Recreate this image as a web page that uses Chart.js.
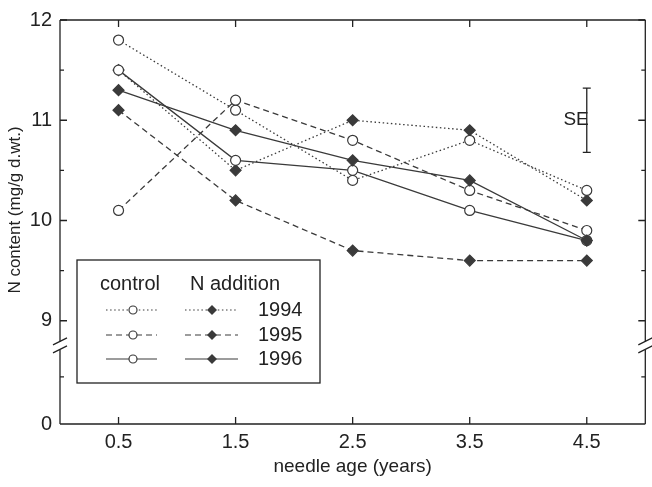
<!DOCTYPE html>
<html>
<head>
<meta charset="utf-8">
<script src="https://cdn.jsdelivr.net/npm/chart.js@4"></script>
<style>
  html, body { margin: 0; padding: 0; background: #fff; }
  #wrap { width: 652px; height: 487px; position: relative; }
</style>
</head>
<body>
<div id="wrap"><canvas id="nChart" width="652" height="487"></canvas></div>
<script>
// needle age categories (years)
const needleAge = [0.5, 1.5, 2.5, 3.5, 4.5];

// control (open circles)
const control1994 = [11.8, 11.1, 10.4, 10.8, 10.3];
const control1995 = [10.1, 11.2, 10.8, 10.3, 9.9];
const control1996 = [11.5, 10.6, 10.5, 10.1, 9.8];

// N addition (filled diamonds)
const nAdd1994 = [11.5, 10.5, 11.0, 10.9, 10.2];
const nAdd1995 = [11.1, 10.2, 9.7, 9.6, 9.6];
const nAdd1996 = [11.3, 10.9, 10.6, 10.4, 9.8];

// axis ticks
const yMajorTicks = [9, 10, 11, 12];
const yMinorTicks = [9.5, 10.5, 11.5];
const yZeroPos = 7.97;      // where "0" sits below the axis break
const yLowMinor = 8.44;     // minor tick below the break
const yBreakAt = 8.75;
const years = ['1994', '1995', '1996'];

// standard error bar, drawn at the last needle age
const seCenter = 11.0;
const seHalf = 0.32;

const ink = '#3a3a3a';
const DOT = [1.5, 2.6];
const DASH = [6, 4];
const SOLID = [];

function series(values, dash, filled, order) {
    return {
        data: needleAge.map((x, i) => ({ x: x, y: values[i] })),
        borderColor: ink,
        borderWidth: 1.3,
        borderDash: dash,
        pointStyle: filled ? 'rectRot' : 'circle',
        pointRadius: filled ? 5.5 : 5,
        pointBorderWidth: 1.2,
        pointBorderColor: ink,
        pointBackgroundColor: filled ? ink : '#fff',
        tension: 0,
        fill: false,
        order: order
    };
}

// frame, inward ticks, axis breaks, titles, legend and SE bar
const decorations = {
    id: 'decorations',
    afterDraw(chart) {
        const ctx = chart.ctx;
        const a = chart.chartArea;
        const xs = chart.scales.x, ys = chart.scales.y;
        const yb = ys.getPixelForValue(yBreakAt);

        ctx.save();
        ctx.strokeStyle = '#222';
        ctx.lineWidth = 1.3;
        ctx.setLineDash([]);

        // frame with gaps for the break
        ctx.beginPath();
        ctx.moveTo(a.left, a.top); ctx.lineTo(a.right, a.top);
        ctx.moveTo(a.left, a.bottom); ctx.lineTo(a.right, a.bottom);
        ctx.moveTo(a.left, a.top); ctx.lineTo(a.left, yb - 4);
        ctx.moveTo(a.left, yb + 4); ctx.lineTo(a.left, a.bottom);
        ctx.moveTo(a.right, a.top); ctx.lineTo(a.right, yb - 4);
        ctx.moveTo(a.right, yb + 4); ctx.lineTo(a.right, a.bottom);
        ctx.stroke();

        // break marks
        ctx.beginPath();
        [a.left, a.right].forEach(x => {
            ctx.moveTo(x - 7, yb - 1); ctx.lineTo(x + 7, yb - 8);
            ctx.moveTo(x - 7, yb + 7); ctx.lineTo(x + 7, yb);
        });
        ctx.stroke();

        // x ticks (bottom and top, inward)
        ctx.beginPath();
        needleAge.forEach(v => {
            const x = xs.getPixelForValue(v);
            ctx.moveTo(x, a.bottom); ctx.lineTo(x, a.bottom - 7);
            ctx.moveTo(x, a.top); ctx.lineTo(x, a.top + 7);
        });
        // y ticks (left and right, inward)
        yMajorTicks.forEach(v => {
            const y = ys.getPixelForValue(v);
            ctx.moveTo(a.left, y); ctx.lineTo(a.left + 7, y);
            ctx.moveTo(a.right, y); ctx.lineTo(a.right - 7, y);
        });
        yMinorTicks.concat([yLowMinor]).forEach(v => {
            const y = ys.getPixelForValue(v);
            ctx.moveTo(a.left, y); ctx.lineTo(a.left + 4, y);
            ctx.moveTo(a.right, y); ctx.lineTo(a.right - 4, y);
        });
        ctx.stroke();

        // axis titles
        ctx.fillStyle = '#222';
        ctx.font = '19px "Liberation Sans", Arial, sans-serif';
        ctx.textAlign = 'center';
        ctx.textBaseline = 'middle';
        ctx.fillText('needle age (years)', (a.left + a.right) / 2, 467);
        ctx.save();
        ctx.translate(15, 210);
        ctx.rotate(-Math.PI / 2);
        ctx.font = '17px "Liberation Sans", Arial, sans-serif';
        ctx.fillText('N content (mg/g d.wt.)', 0, 0);
        ctx.restore();

        // SE bar
        const sx = xs.getPixelForValue(needleAge[needleAge.length - 1]);
        const sTop = ys.getPixelForValue(seCenter + seHalf);
        const sBot = ys.getPixelForValue(seCenter - seHalf);
        ctx.beginPath();
        ctx.moveTo(sx, sTop); ctx.lineTo(sx, sBot);
        ctx.moveTo(sx - 4, sTop); ctx.lineTo(sx + 4, sTop);
        ctx.moveTo(sx - 4, sBot); ctx.lineTo(sx + 4, sBot);
        ctx.stroke();
        ctx.textAlign = 'right';
        ctx.font = '19px "Liberation Sans", Arial, sans-serif';
        ctx.fillText('SE', sx + 2, ys.getPixelForValue(seCenter));

        // legend
        const bx = 77, by = 260, bw = 243, bh = 123;
        ctx.fillStyle = '#fff';
        ctx.fillRect(bx, by, bw, bh);
        ctx.strokeRect(bx, by, bw, bh);
        ctx.fillStyle = '#222';
        ctx.font = '20px "Liberation Sans", Arial, sans-serif';
        ctx.textAlign = 'left';
        ctx.fillText('control', 100, 284);
        ctx.fillText('N addition', 190, 284);
        const dashes = [DOT, DASH, SOLID];
        const rowsY = [310, 335, 359];
        rowsY.forEach((ry, i) => {
            ctx.strokeStyle = ink;
            ctx.lineWidth = 1.2;
            ctx.setLineDash(dashes[i]);
            ctx.beginPath();
            ctx.moveTo(106, ry); ctx.lineTo(157, ry);
            ctx.moveTo(185, ry); ctx.lineTo(238, ry);
            ctx.stroke();
            ctx.setLineDash([]);
            // circle
            ctx.beginPath();
            ctx.arc(133, ry, 4, 0, Math.PI * 2);
            ctx.fillStyle = '#fff';
            ctx.fill();
            ctx.stroke();
            // diamond
            ctx.beginPath();
            ctx.moveTo(212, ry - 5); ctx.lineTo(217, ry);
            ctx.lineTo(212, ry + 5); ctx.lineTo(207, ry);
            ctx.closePath();
            ctx.fillStyle = ink;
            ctx.fill();
            ctx.fillStyle = '#222';
            ctx.fillText(years[i], 258, ry);
        });
        ctx.restore();
    }
};

document.addEventListener('DOMContentLoaded', function() {
    const canvas = document.getElementById('nChart');
    new Chart(canvas, {
        type: 'line',
        data: {
            datasets: [
                series(nAdd1994, DOT, true, 6),
                series(control1994, DOT, false, 5),
                series(nAdd1995, DASH, true, 4),
                series(control1995, DASH, false, 3),
                series(control1996, SOLID, false, 2),
                series(nAdd1996, SOLID, true, 1)
            ]
        },
        options: {
            responsive: false,
            animation: false,
            layout: { padding: { top: 16, right: 6, left: 0, bottom: 0 } },
            plugins: {
                legend: { display: false },
                tooltip: { enabled: false }
            },
            scales: {
                x: {
                    type: 'linear',
                    min: 0,
                    max: 5,
                    grid: { display: false, drawTicks: false },
                    border: { display: false },
                    afterFit(scale) { scale.height = 63; },
                    afterBuildTicks(scale) {
                        scale.ticks = needleAge.map(v => ({ value: v }));
                    },
                    ticks: {
                        padding: 6,
                        color: '#222',
                        font: { family: '"Liberation Sans", Arial, sans-serif', size: 20 },
                        callback: v => v.toFixed(1)
                    }
                },
                y: {
                    type: 'linear',
                    min: yZeroPos,
                    max: 12,
                    grid: { display: false, drawTicks: false },
                    border: { display: false },
                    afterFit(scale) { scale.width = 60; },
                    afterBuildTicks(scale) {
                        scale.ticks = [yZeroPos].concat(yMajorTicks).map(v => ({ value: v }));
                    },
                    ticks: {
                        padding: 8,
                        color: '#222',
                        font: { family: '"Liberation Sans", Arial, sans-serif', size: 20 },
                        callback: v => (Math.abs(v - yZeroPos) < 1e-6 ? '0' : String(v))
                    }
                }
            }
        },
        plugins: [decorations]
    });
});
</script>
</body>
</html>
